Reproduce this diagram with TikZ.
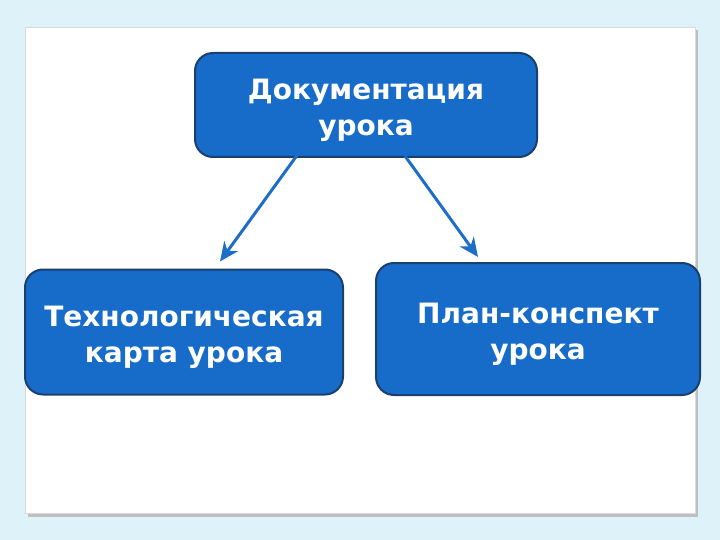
\documentclass[tikz,border=0pt]{standalone}
\usepackage{fontspec}
\setmainfont{DejaVu Sans}
\usetikzlibrary{arrows.meta,calc}

\definecolor{pagebg}{RGB}{222,242,249}
\definecolor{boxfill}{RGB}{22,108,200}
\definecolor{boxline}{RGB}{28,64,110}
\definecolor{arrowblue}{RGB}{30,110,200}

\tikzset{
  topic/.style={draw=boxline, line width=2pt, fill=boxfill, rounded corners=18pt, inner sep=0pt},
  caption/.style={text=white, align=center, inner sep=0pt, yshift=-5pt,
    font=\bfseries\fontsize{28}{36}\selectfont},
  link/.style={draw=arrowblue, line width=3pt, -{Stealth[length=19pt,width=17pt,inset=6pt]}}
}

\begin{document}
\begin{tikzpicture}[x=1pt,y=-1pt]
	\useasboundingbox[fill=pagebg] (0,0) rectangle (720,540);
	% card
	\fill[black!25] (28,30) rectangle (698,517);
	\fill[white, draw=black!15, line width=0.6pt] (25,27) rectangle (695,513);
	
	\node[topic, minimum width=342pt, minimum height=104pt,
	      label={[caption]center:Документация\\урока}] (doc) at (366,105) {};
	\node[topic, minimum width=318pt, minimum height=125pt,
	      label={[caption]center:Технологическая\\карта урока}] (tech) at (184,332) {};
	\node[topic, minimum width=324pt, minimum height=132pt,
	      label={[caption]center:План-конспект\\урока}] (plan) at (538,329) {};
	
	\draw[link] ($(doc.south)+(-68,-4)$) -- ($(tech.north)+(36,-7)$);
	\draw[link] ($(doc.south)+(39,-2)$) -- ($(plan.north)+(-60,-5)$);
\end{tikzpicture}
\end{document}
